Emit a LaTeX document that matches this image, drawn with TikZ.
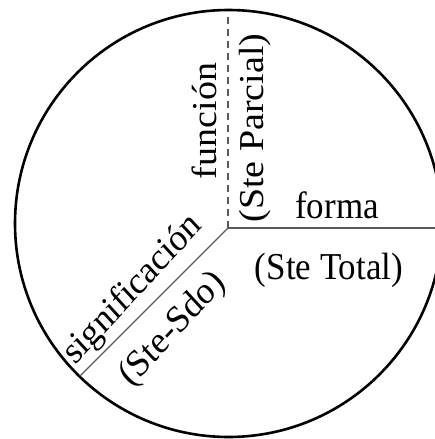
\documentclass[tikz,border=0pt]{standalone}
\usepackage{fontspec}
\setmainfont{Liberation Serif}
\tikzset{
  rim/.style={line width=2.6pt},
  spoke/.style={gray!70!black, line width=1.3pt},
  lbl/.style={font=\fontsize{38}{40}\selectfont, inner sep=0pt, xscale=0.92}
}
\begin{document}
\begin{tikzpicture}[x=1pt,y=-1pt]
    \useasboundingbox (0,0) rectangle (434,439);
    % circulo
    \draw[rim] (228.5,223.5) circle (213.5);
    % radios
    \coordinate (c) at (228,228);
    \coordinate (top) at (228,14);
    \coordinate (east) at (440,228);
    \coordinate (sw) at (80,376);
    \draw[spoke, dash pattern=on 7pt off 5pt] (c) -- (top);
    \draw[spoke] (c) -- (east);
    \draw[spoke] (c) -- (sw);
    % textos
    \node[lbl, rotate=90] (fun) at (204,121) {función};
    \node[lbl, rotate=90] (parc) at (255,128) {(Ste Parcial)};
    \node[lbl] (forma) at (337,205) {forma};
    \node[lbl] (total) at (329,270) {(Ste Total)};
    \node[lbl, rotate=45] (sig) at (133,290) {significación};
    \node[lbl, rotate=45] (sdo) at (173,330) {(Ste-Sdo)};
\end{tikzpicture}
\end{document}
